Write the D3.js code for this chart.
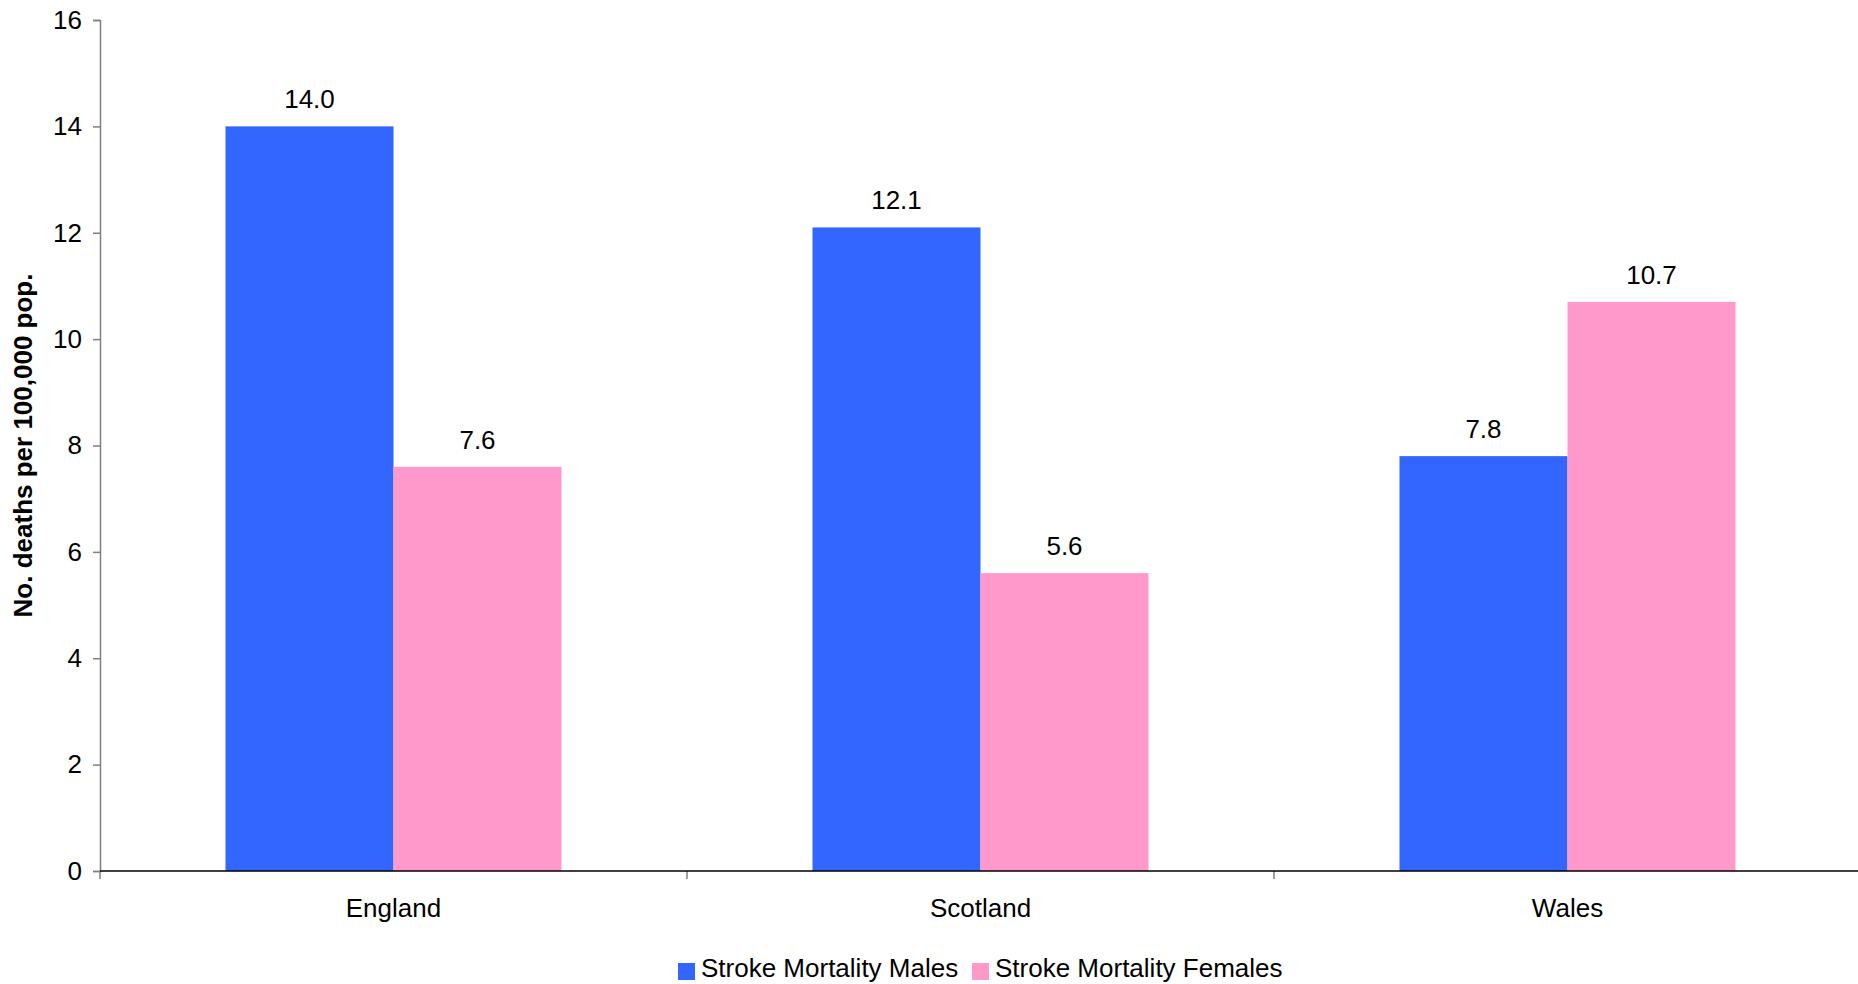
<!DOCTYPE html>
<html>
<head>
<meta charset="utf-8">
<script src="https://cdn.jsdelivr.net/npm/d3@7"></script>
<style>
  html, body { margin: 0; padding: 0; background: #fff; }
  svg { display: block; font-family: "Liberation Sans", Arial, sans-serif; }
</style>
</head>
<body>
<svg id="chart" width="1858" height="984"></svg>
<script>
// Stroke mortality per 100,000 population by country and sex
const countries = ["England", "Scotland", "Wales"];
const seriesNames = ["Stroke Mortality Males", "Stroke Mortality Females"];
const malesValues = [14.0, 12.1, 7.8];
const femalesValues = [7.6, 5.6, 10.7];
const yTicks = [0, 2, 4, 6, 8, 10, 12, 14, 16];
const seriesColors = ["#3366FF", "#FF99CC"];
const yTitle = "No. deaths per 100,000 pop.";

const rows = countries.map((c, i) => ({
  country: c,
  values: [malesValues[i], femalesValues[i]]
}));

const svg = d3.select("#chart");
const plot = { left: 100, right: 1861, top: 20, bottom: 871 };
const fontSize = 26;

const y = d3.scaleLinear().domain([0, 16]).range([plot.bottom, plot.top]);
const x0 = d3.scaleBand().domain(countries).range([plot.left, plot.right]).paddingInner(0).paddingOuter(0);
const x1 = d3.scaleBand().domain(d3.range(seriesNames.length))
  .range([0, x0.bandwidth()]).paddingInner(0).paddingOuter(0.747);

// Bars
const groups = svg.append("g").selectAll("g")
  .data(rows).join("g")
  .attr("transform", d => `translate(${x0(d.country)},0)`);

groups.selectAll("rect")
  .data(d => d.values.map((v, k) => ({ v, k })))
  .join("rect")
  .attr("x", d => x1(d.k))
  .attr("y", d => y(d.v))
  .attr("width", x1.bandwidth())
  .attr("height", d => y(0) - y(d.v))
  .attr("fill", d => seriesColors[d.k]);

// Value labels above bars
groups.selectAll("text.val")
  .data(d => d.values.map((v, k) => ({ v, k })))
  .join("text")
  .attr("class", "val")
  .attr("x", d => x1(d.k) + x1.bandwidth() / 2)
  .attr("y", d => y(d.v) - 18)
  .attr("text-anchor", "middle")
  .attr("font-size", fontSize)
  .attr("fill", "#000")
  .text(d => d.v.toFixed(1));

// Y axis
const yAxis = d3.axisLeft(y).tickValues(yTicks).tickSize(7).tickPadding(11).tickFormat(d3.format("d"));
const gy = svg.append("g").attr("transform", `translate(${plot.left},0)`).call(yAxis);
gy.select(".domain").attr("stroke", "#808080").attr("stroke-width", 1.5);
gy.selectAll(".tick line").attr("stroke", "#808080").attr("stroke-width", 1.5);
gy.selectAll(".tick text").attr("font-size", fontSize).attr("fill", "#000")
  .attr("font-family", "Liberation Sans, Arial, sans-serif");

// X axis: category separators as ticks at band edges
const edges = countries.map(c => x0(c)).concat([x0.range()[1]]);
const gx = svg.append("g");
gx.selectAll("line.sep").data(edges).join("line")
  .attr("class", "sep")
  .attr("x1", d => d).attr("x2", d => d)
  .attr("y1", y(0)).attr("y2", y(0) + 8)
  .attr("stroke", "#808080").attr("stroke-width", 1.5);
gx.append("line")
  .attr("x1", plot.left).attr("x2", plot.right)
  .attr("y1", y(0)).attr("y2", y(0))
  .attr("stroke", "#000").attr("stroke-width", 1.5);
gx.selectAll("text.cat").data(countries).join("text")
  .attr("class", "cat")
  .attr("x", d => x0(d) + x0.bandwidth() / 2)
  .attr("y", 917)
  .attr("text-anchor", "middle")
  .attr("font-size", fontSize)
  .attr("fill", "#000")
  .text(d => d);

// Y axis title
svg.append("text")
  .attr("transform", `translate(32,${(plot.top + plot.bottom) / 2}) rotate(-90)`)
  .attr("text-anchor", "middle")
  .attr("font-size", fontSize)
  .attr("font-weight", "bold")
  .attr("fill", "#000")
  .text(yTitle);

// Legend
const legendItems = [
  { name: seriesNames[0], color: seriesColors[0], x: 678 },
  { name: seriesNames[1], color: seriesColors[1], x: 972 }
];
const lg = svg.append("g").selectAll("g").data(legendItems).join("g")
  .attr("transform", d => `translate(${d.x},963)`);
lg.append("rect").attr("width", 17).attr("height", 17).attr("fill", d => d.color);
lg.append("text")
  .attr("x", 23)
  .attr("y", 14)
  .attr("font-size", fontSize)
  .attr("fill", "#000")
  .text(d => d.name);
</script>
</body>
</html>
